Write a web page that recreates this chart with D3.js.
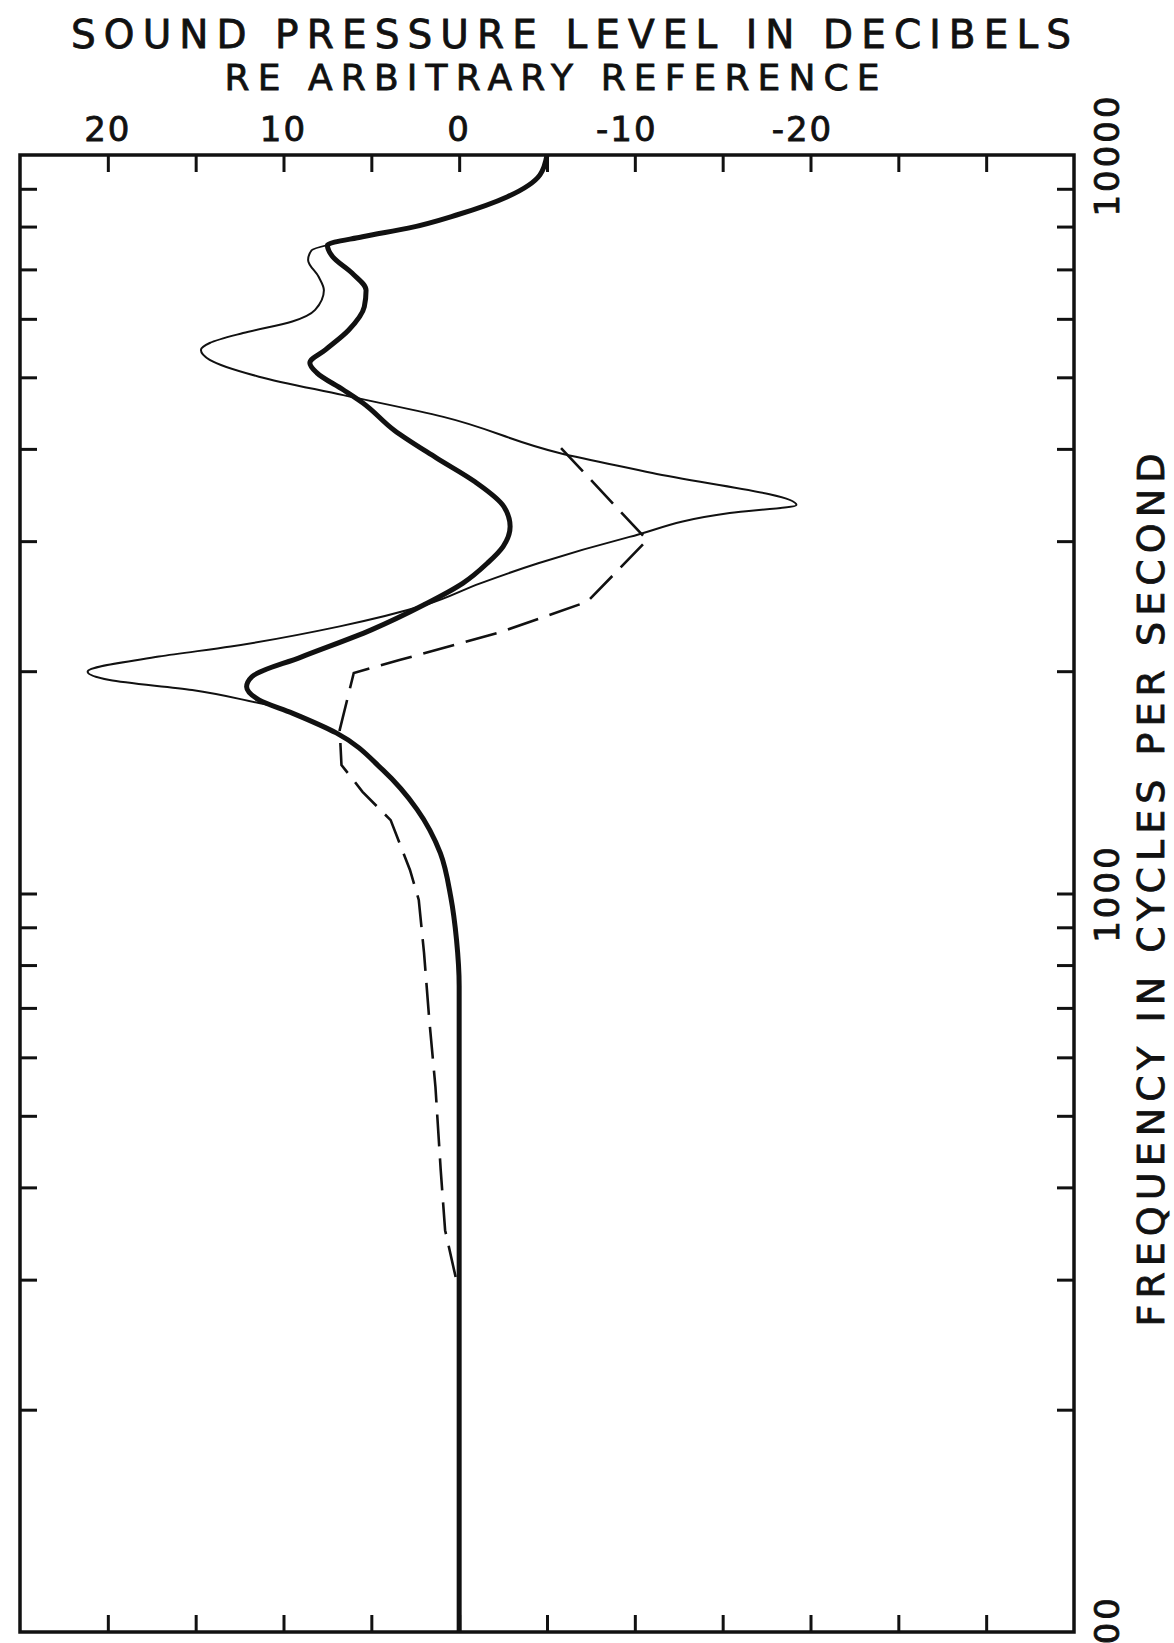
<!DOCTYPE html>
<html>
<head>
<meta charset="utf-8">
<script src="https://cdn.jsdelivr.net/npm/d3@7"></script>
<style>
  body { margin: 0; background: #fff; }
  svg { display: block; }
  text { font-family: "DejaVu Sans", sans-serif; fill: #111; stroke: #111; stroke-width: 0.8px; }
</style>
</head>
<body>
<svg id="chart"></svg>
<script>
const width = 1174;
const height = 1643;
const frame = { left: 20, right: 1074, top: 155, bottom: 1632 };

// thick solid curve
const thickFreq = [10000, 9400, 8780, 8300, 7960, 7750, 7550, 7280, 6920, 6560, 6230, 5790, 5450, 5230, 5070,
    4810, 4620, 4240, 3890, 3610, 3340, 3140, 2950, 2800, 2630, 2460, 2275, 2090, 1966, 1905, 1829, 1755,
    1650, 1470, 1300, 1134, 990, 865, 750, 100];
const thickDb = [-5.0, -4.6, -2.75, 0.1, 2.9, 5.5, 7.5, 7.2, 6.1, 5.3, 5.4, 6.3, 7.6, 8.5, 8.1,
    6.6, 5.5, 3.7, 1.3, -0.9, -2.55, -2.9, -2.5, -1.6, -0.2, 2.0, 5.0, 9.0, 11.8, 12.1, 11.4, 9.5,
    7.0, 4.35, 2.4, 1.07, 0.48, 0.15, 0, 0];

// thin solid curve
const thinFreq = [7550, 7430, 7210, 6840, 6560, 6170, 5950, 5740, 5565, 5445, 5280, 5010, 4730, 4420, 3950,
    3710, 3358, 3275, 3040, 2800, 2630, 2460, 2300, 2160, 2093, 1997, 1946, 1886, 1811, 1791];
const thinDb = [7.5, 8.4, 8.6, 8.0, 7.7, 8.2, 9.5, 12.3, 14.2, 14.7, 14.2, 11.4, 6.6, 0.9, -5.7,
    -11.0, -19.2, -15.4, -9.7, -4.5, -1.2, 1.9, 6.8, 13.0, 17.1, 21.15, 19.9, 15.2, 11.4, 10.4];

// dashed curve
const dashFreq = [4010, 3010, 2484, 2253, 2071, 1989, 1665, 1493, 1373, 1257, 1076, 980, 831, 674, 547, 422, 350, 288];
const dashDb = [-5.8, -10.7, -7.3, -2.2, 3.4, 6.0, 6.8, 6.7, 5.5, 3.9, 2.8, 2.3, 2.0, 1.7, 1.35, 1.05, 0.8, 0];

const dbLabels = [20, 10, 0, -10, -20];
const freqLabels = [100, 1000, 10000];

const svg = d3.select("#chart")
    .attr("width", width)
    .attr("height", height);

const x = d3.scaleLinear().domain([25, -35]).range([frame.left, frame.right]);
const y = d3.scaleLog().domain([100, 10000]).range([frame.bottom, frame.top]);

const dbTicks = x.ticks(12).filter(v => v < 25 && v > -35);
const fTicks = y.ticks().filter(v => v > 100 && v < 10000);

// ticks, pointing into the frame
const axes = [
    svg.append("g").attr("transform", `translate(0,${frame.top})`)
        .call(d3.axisBottom(x).tickValues(dbTicks).tickSize(17).tickFormat("")),
    svg.append("g").attr("transform", `translate(0,${frame.bottom})`)
        .call(d3.axisTop(x).tickValues(dbTicks).tickSize(17).tickFormat("")),
    svg.append("g").attr("transform", `translate(${frame.left},0)`)
        .call(d3.axisRight(y).tickValues(fTicks).tickSize(17).tickFormat("")),
    svg.append("g").attr("transform", `translate(${frame.right},0)`)
        .call(d3.axisLeft(y).tickValues(fTicks).tickSize(17).tickFormat(""))
];
axes.forEach(g => {
    g.select(".domain").remove();
    g.selectAll(".tick line").attr("stroke", "#111").attr("stroke-width", 3);
});

// frame
svg.append("rect")
    .attr("x", frame.left).attr("y", frame.top)
    .attr("width", frame.right - frame.left)
    .attr("height", frame.bottom - frame.top)
    .attr("fill", "none")
    .attr("stroke", "#111")
    .attr("stroke-width", 3.5);

// curves
const line = d3.line()
    .x(d => x(d.db))
    .y(d => y(d.f));

const thick = thickFreq.map((f, i) => ({ f, db: thickDb[i] }));
const thin = thinFreq.map((f, i) => ({ f, db: thinDb[i] }));
const dashed = dashFreq.map((f, i) => ({ f, db: dashDb[i] }));

svg.append("path")
    .datum(dashed)
    .attr("d", line.curve(d3.curveLinear))
    .attr("fill", "none")
    .attr("stroke", "#111")
    .attr("stroke-width", 2.6)
    .attr("stroke-dasharray", "32,12");

line.curve(d3.curveMonotoneY);

svg.append("path")
    .datum(thin)
    .attr("d", line)
    .attr("fill", "none")
    .attr("stroke", "#111")
    .attr("stroke-width", 2);

svg.append("path")
    .datum(thick)
    .attr("d", line)
    .attr("fill", "none")
    .attr("stroke", "#111")
    .attr("stroke-width", 5)
    .attr("stroke-linejoin", "round");

// title
svg.append("text")
    .attr("x", 571).attr("y", 48)
    .attr("text-anchor", "middle")
    .attr("textLength", 1000)
    .attr("lengthAdjust", "spacing")
    .style("font-size", "39px")
    .text("SOUND PRESSURE LEVEL IN DECIBELS");

svg.append("text")
    .attr("x", 552).attr("y", 90)
    .attr("text-anchor", "middle")
    .attr("textLength", 655)
    .attr("lengthAdjust", "spacing")
    .style("font-size", "36px")
    .text("RE ARBITRARY REFERENCE");

// dB labels along the top
svg.append("g")
    .selectAll("text")
    .data(dbLabels)
    .join("text")
    .attr("x", d => x(d))
    .attr("dx", d => d < 0 ? -8 : 0)
    .attr("y", 141)
    .attr("text-anchor", "middle")
    .style("font-size", "34px")
    .style("letter-spacing", "2px")
    .text(d => d);

// frequency labels, rotated
svg.append("g")
    .selectAll("text")
    .data(freqLabels)
    .join("text")
    .attr("transform", d => `translate(1119,${y(d)}) rotate(-90)`)
    .attr("text-anchor", "middle")
    .style("font-size", "34px")
    .style("letter-spacing", "3px")
    .text(d => d);

svg.append("text")
    .attr("transform", "translate(1164,890) rotate(-90)")
    .attr("text-anchor", "middle")
    .attr("textLength", 873)
    .attr("lengthAdjust", "spacing")
    .style("font-size", "38px")
    .text("FREQUENCY IN CYCLES PER SECOND");
</script>
</body>
</html>
